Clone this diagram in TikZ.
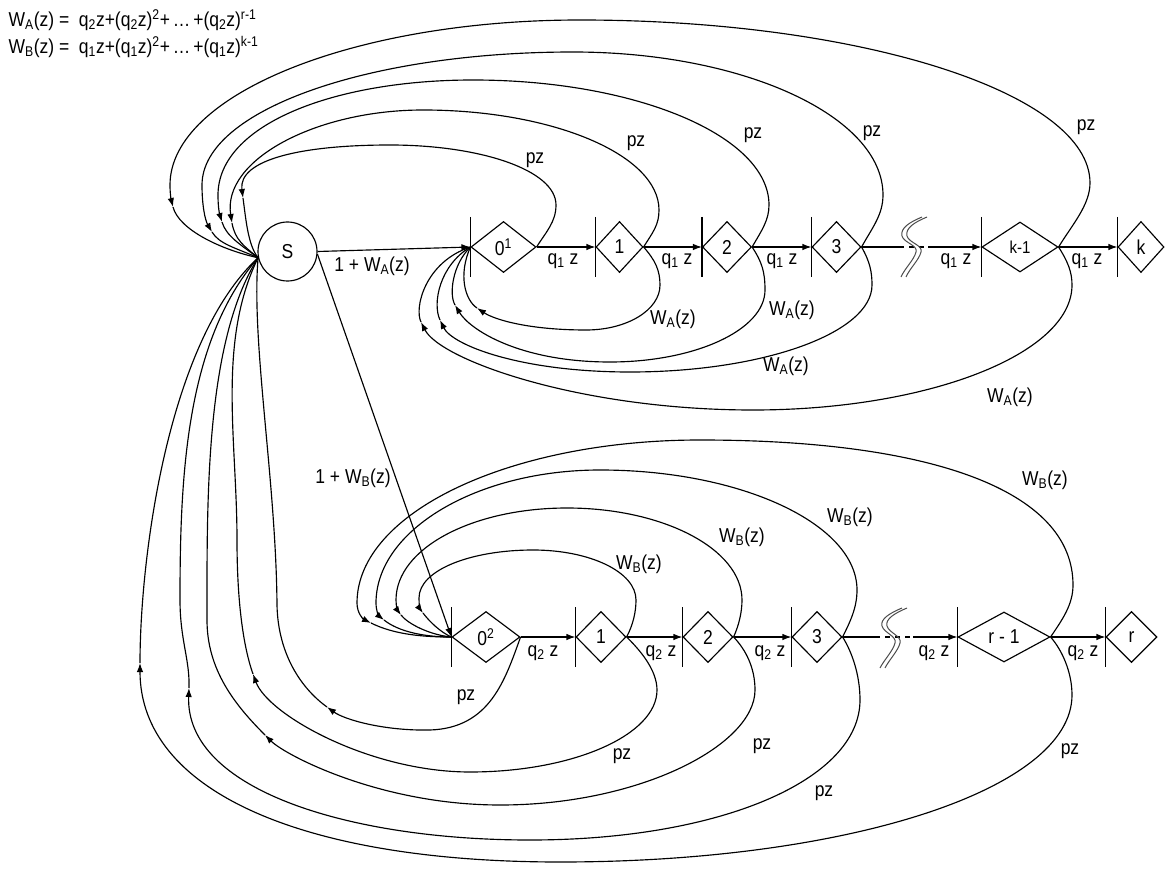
\documentclass[tikz,border=0pt]{standalone}
\usepackage{graphicx}
\usepackage{fontspec}
\setmainfont{Liberation Sans}
\usetikzlibrary{arrows.meta,shapes.geometric}
\newcommand{\vst}[1]{\scalebox{1}[1.15]{#1}}
\begin{document}
\begin{tikzpicture}[x=1pt,y=-1pt, line width=1.15pt,
  lab/.style={font=\fontsize{17.5}{20}\selectfont, inner sep=0pt},
  dia/.style={draw, diamond, inner sep=0pt, minimum width=#1, minimum height=51pt, font=\fontsize{17.5}{20}\selectfont},
  tip/.style={-{Latex[length=9pt,width=6.5pt]}},
  squig/.style={draw=black!70, line width=1pt}]
\useasboundingbox (0,0) rectangle (1165,869);
\fill[white] (0,0) rectangle (1165,869);

% formulas
\node[lab, anchor=west] (fa) at (8,20) {\vst{W\textsubscript{A}(z) =\ \ q\textsubscript{2}z+(q\textsubscript{2}z)\textsuperscript{2}+\,…\,+(q\textsubscript{2}z)\textsuperscript{r-1}}};
\node[lab, anchor=west] (fb) at (8,47) {\vst{W\textsubscript{B}(z) =\ \ q\textsubscript{1}z+(q\textsubscript{1}z)\textsuperscript{2}+\,…\,+(q\textsubscript{1}z)\textsuperscript{k-1}}};

% nodes
\node[draw, circle, minimum size=59pt, inner sep=0pt, font=\fontsize{17.5}{20}\selectfont] (S) at (287.5,251.5) {\vst{S}};
\node[dia=65pt] (d01) at (503.5,247) {\vst{0\textsuperscript{1}}};
\node[dia=47pt] (d1) at (619.5,247) {\vst{1}};
\node[dia=49pt] (d2) at (727,247) {\vst{2}};
\node[dia=49pt] (d3) at (836.5,247) {\vst{3}};
\node[dia=76pt, minimum height=50pt, font=\fontsize{15}{17}\selectfont] (dk1) at (1020,247) {\vst{k-1}};
\node[dia=46pt] (dk) at (1141,247) {\vst{k}};

\node[dia=68pt] (d02) at (486,637) {\vst{0\textsuperscript{2}}};
\node[dia=50pt] (db1) at (601,637) {\vst{1}};
\node[dia=50pt] (db2) at (708,637) {\vst{2}};
\node[dia=50pt] (db3) at (817,637) {\vst{3}};
\node[dia=92pt, minimum height=50pt] (dr1) at (1004,637) {\vst{r - 1}};
\node[dia=51pt] (dr) at (1131.5,637) {\vst{r}};

% bars
\foreach \n in {d01,d1,d2,d3,dk1,dk,d02,db1,db2,db3,dr1,dr}
  \draw (\n.west) ++(0,-30) -- ++(0,60);

% squiggle break points
\coordinate (sqa) at (899,247);
\coordinate (sqb) at (928,247);
\coordinate (sqc) at (875,637);
\coordinate (sqd) at (913,637);

% straight transitions
\draw[tip] (S.east) -- (d01.west);
\draw[tip] (S.-5) -- (d02.west);
\draw[tip] (d01.east) -- (d1.west);
\draw[tip] (d1.east) -- (d2.west);
\draw[tip] (d2.east) -- (d3.west);
\draw (d3.east) -- (sqa);
\draw[dash pattern=on 5pt off 5pt] (sqa) -- (sqb);
\draw[tip] (sqb) -- (dk1.west);
\draw[tip] (dk1.east) -- (dk.west);

\draw[tip] (d02.east) -- (db1.west);
\draw[tip] (db1.east) -- (db2.west);
\draw[tip] (db2.east) -- (db3.west);
\draw (db3.east) -- (sqc);
\draw[dash pattern=on 5pt off 5pt] (sqc) -- (sqd);
\draw[tip] (sqd) -- (dr1.west);
\draw[tip] (dr1.east) -- (dr.west);

% squiggles
\foreach \dx in {0,5}{
  \draw[squig] (922+\dx,217) .. controls (910+\dx,222) and (900+\dx,228) .. (902+\dx,236) .. controls (904+\dx,243) and (918+\dx,245) .. (916+\dx,252) .. controls (914+\dx,260) and (905+\dx,268) .. (901+\dx,277);
  \draw[squig] (902+\dx,608) .. controls (890+\dx,613) and (880+\dx,619) .. (882+\dx,626) .. controls (884+\dx,633) and (897+\dx,636) .. (895+\dx,643) .. controls (893+\dx,651) and (884+\dx,660) .. (880+\dx,668);
}

% arrow points
\coordinate (jP0) at (243,198);
\coordinate (jP1) at (232,223);
\coordinate (jP2) at (222,222);
\coordinate (jP3) at (212,232);
\coordinate (jPk) at (173,207);
\coordinate (jA1) at (477,308);
\coordinate (jA2) at (455,305);
\coordinate (jA3) at (440,320);
\coordinate (jA4) at (421,322);
\coordinate (jB1) at (423,613);
\coordinate (jB2) at (401,615);
\coordinate (jB3) at (384,620);
\coordinate (jB4) at (371,623);
\coordinate (jQ0) at (327,707);
\coordinate (jQ1) at (253,674);
\coordinate (jQ2) at (265,735);
\coordinate (jQ3) at (189,688);
\coordinate (jQ4) at (140,663);

% top pz loops back to S
\draw[tip] (d01.east) .. controls (546,232) and (556,222) .. (556,205) .. controls (556,170) and (480,145) .. (390,145) .. controls (300,145) and (238,160) .. (jP0);
\draw (jP0) .. controls (246,220) and (248,245) .. (S.192);
\draw[tip] (d1.east) .. controls (653,232) and (659,225) .. (659,210) .. controls (659,155) and (553,110) .. (423,110) .. controls (316,110) and (222,160) .. (jP1);
\draw (jP1) .. controls (235,240) and (244,246) .. (S.192);
\draw[tip] (d2.east) .. controls (762,230) and (769,220) .. (769,205) .. controls (769,136) and (636,80) .. (473,80) .. controls (333,80) and (218,125) .. (218,195) .. controls (218,205) and (219,212) .. (jP2);
\draw (jP2) .. controls (226,236) and (241,245) .. (S.192);
\draw[tip] (d3.east) .. controls (872,228) and (883,215) .. (883,195) .. controls (883,116) and (743,52) .. (573,52) .. controls (369,52) and (202,110) .. (202,185) .. controls (202,205) and (205,220) .. (jP3);
\draw (jP3) .. controls (219,244) and (236,248) .. (S.192);
\draw[tip] (dk1.east) .. controls (1072,225) and (1090,205) .. (1090,183) .. controls (1090,93) and (860,20) .. (580,20) .. controls (355,20) and (170,94) .. (170,185) .. controls (170,193) and (171,199) .. (jPk);
\draw (jPk) .. controls (179,230) and (222,250) .. (S.192);

% W_A loops back to 0^1
\draw[tip] (d1.east) .. controls (655,260) and (660,270) .. (660,285) .. controls (660,310) and (627,330) .. (586,330) .. controls (530,330) and (495,320) .. (jA1);
\draw (jA1) .. controls (465,300) and (458,275) .. (d01.west);
\draw[tip] (d2.east) .. controls (762,262) and (765,272) .. (765,290) .. controls (765,330) and (695,362) .. (610,362) .. controls (520,362) and (470,330) .. (jA2);
\draw (jA2) .. controls (449,295) and (452,265) .. (d01.west);
\draw[tip] (d3.east) .. controls (870,262) and (872,272) .. (872,285) .. controls (872,333) and (763,372) .. (630,372) .. controls (520,372) and (452,345) .. (jA3);
\draw (jA3) .. controls (432,303) and (440,265) .. (d01.west);
\draw[tip] (dk1.east) .. controls (1068,262) and (1072,272) .. (1072,285) .. controls (1072,354) and (928,410) .. (753,410) .. controls (580,410) and (440,360) .. (jA4);
\draw (jA4) .. controls (414,308) and (425,262) .. (d01.west);

% W_B loops back to 0^2
\draw[tip] (db1.east) .. controls (633,625) and (636,612) .. (636,600) .. controls (636,572) and (590,550) .. (533,550) .. controls (471,550) and (419,570) .. (419,598) .. controls (419,604) and (420,609) .. (jB1);
\draw (jB1) .. controls (429,621) and (440,632) .. (d02.west);
\draw[tip] (db2.east) .. controls (739,625) and (742,612) .. (742,600) .. controls (742,549) and (663,508) .. (567,508) .. controls (473,508) and (396,548) .. (396,600) .. controls (396,607) and (398,611) .. (jB2);
\draw (jB2) .. controls (408,624) and (430,635) .. (d02.west);
\draw[tip] (db3.east) .. controls (850,622) and (857,608) .. (857,590) .. controls (857,524) and (741,470) .. (600,470) .. controls (477,470) and (376,530) .. (376,603) .. controls (376,611) and (379,616) .. (jB3);
\draw (jB3) .. controls (399,632) and (425,637) .. (d02.west);
\draw[tip] (dr1.east) .. controls (1062,620) and (1073,605) .. (1073,585) .. controls (1073,490) and (930,440) .. (700,440) .. controls (511,440) and (357,512) .. (357,603) .. controls (357,613) and (363,619) .. (jB4);
\draw (jB4) .. controls (395,635) and (425,637) .. (d02.west);

% bottom pz loops back to S
\draw[tip] (d02.east) .. controls (505,680) and (490,728) .. (430,730) .. controls (385,731) and (345,720) .. (jQ0);
\draw (jQ0) .. controls (302,689) and (278,655) .. (277,605) .. controls (276,480) and (251,342) .. (S.192);
\draw[tip] (db1.east) .. controls (640,650) and (657,670) .. (657,690) .. controls (657,735) and (573,772) .. (470,772) .. controls (370,772) and (268,715) .. (jQ1);
\draw (jQ1) .. controls (243,646) and (237,600) .. (237,540) .. controls (237,440) and (217,342) .. (S.192);
\draw[tip] (db2.east) .. controls (746,650) and (755,668) .. (755,690) .. controls (755,745) and (640,805) .. (500,805) .. controls (380,805) and (285,755) .. (jQ2);
\draw (jQ2) .. controls (235,705) and (207,670) .. (207,620) .. controls (207,500) and (205,342) .. (S.192);
\draw[tip] (db3.east) .. controls (852,652) and (860,675) .. (860,700) .. controls (860,780) and (720,840) .. (530,840) .. controls (350,840) and (185,790) .. (jQ3);
\draw (jQ3) .. controls (190,660) and (180,640) .. (180,600) .. controls (180,480) and (185,342) .. (S.192);
\draw[tip] (dr1.east) .. controls (1062,650) and (1072,672) .. (1072,695) .. controls (1072,790) and (846,862) .. (560,862) .. controls (300,862) and (140,790) .. (jQ4);
\draw (jQ4) .. controls (140,560) and (167,342) .. (S.192);

% labels
\node[lab] (l1a) at (372,266) {\vst{1 + W\textsubscript{A}(z)}};
\node[lab] (l1b) at (353,478) {\vst{1 + W\textsubscript{B}(z)}};
\foreach \x/\nm in {563/qa1,677/qa2,782/qa3,956/qa4,1087/qa5}
  \node[lab] (\nm) at (\x,261) {\vst{q\textsubscript{1} z}};
\foreach \x/\nm in {543/qb1,661/qb2,770/qb3,934/qb4,1083/qb5}
  \node[lab] (\nm) at (\x,653) {\vst{q\textsubscript{2} z}};
\foreach \x/\y/\nm in {535/160/pa0,636/143/pa1,753/135/pa2,872/133/pa3,1086/127/pa4}
  \node[lab] (\nm) at (\x,\y) {\vst{pz}};
\foreach \x/\y/\nm in {466/697/pb0,622/756/pb1,762/746/pb2,824/793/pb3,1070/751/pb4}
  \node[lab] (\nm) at (\x,\y) {\vst{pz}};
\foreach \x/\y/\nm in {673/319/wa1,792/310/wa2,786/366/wa3,1010/397/wa4}
  \node[lab] (\nm) at (\x,\y) {\vst{W\textsubscript{A}(z)}};
\foreach \x/\y/\nm in {639/564/wb1,742/537/wb2,850/517/wb3,1045/480/wb4}
  \node[lab] (\nm) at (\x,\y) {\vst{W\textsubscript{B}(z)}};
\end{tikzpicture}
\end{document}
